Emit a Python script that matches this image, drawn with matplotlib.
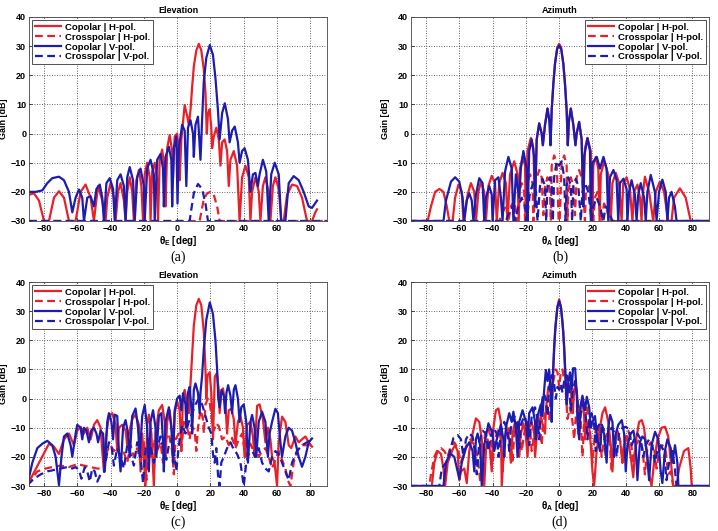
import numpy as np
import matplotlib
matplotlib.use("Agg")
import matplotlib.pyplot as plt

plt.rcParams['font.family'] = ['Liberation Sans', 'DejaVu Sans']

# ---- datos: (angulo [deg], ganancia [dB]) ----
# (a) Elevacion
a_co_h = [(-89, -21), (-86, -20.5), (-83, -23), (-80, -30), (-77, -30), (-74, -22), (-71, -19.8), (-68, -22),
          (-65, -30), (-61, -30), (-58, -20), (-55, -17.5), (-52, -22), (-50, -30), (-49, -25), (-47.5, -18),
          (-45, -23), (-43, -30), (-42, -22), (-40, -17), (-38, -22), (-37, -30), (-35.5, -20), (-34, -17),
          (-32, -23), (-31, -30), (-30, -20), (-28.5, -15), (-27, -20), (-26, -30), (-24.5, -16), (-23, -12.5),
          (-21.5, -18), (-20.5, -30), (-19.5, -14), (-18, -10), (-16.5, -15), (-16, -30), (-15, -13), (-13.5, -10),
          (-12, -16), (-11.5, -30), (-10.5, -9), (-9, -5.5), (-7.5, -12), (-7, -25), (-6, -5), (-4.5, -0.5),
          (-3, -6), (-2.5, -15), (-1.5, -1), (0, 0), (1, -6), (1.5, -16), (2.5, -2), (4.5, 9.8), (6, 6),
          (7, 3), (8, 8), (9, 16), (10, 23), (11.5, 28.5), (13, 30.8), (14.5, 28.5), (16, 22), (17, 14),
          (17.8, 0), (18.5, 7), (19.5, 8.3), (20.5, 2), (21, -5), (22, -1), (23.5, 2), (25, -2), (26, -11),
          (27, -3), (28.5, -2), (30, -6), (31, -18), (32, -9), (34, -6), (36, -11), (37.5, -30), (39, -15),
          (41, -11), (43, -15), (44, -30), (45, -20), (47, -15), (49, -20), (50, -30), (51.5, -18), (53, -15),
          (55, -20), (56, -30), (57.5, -18), (59, -15), (61, -19), (62.5, -30), (64, -30), (66, -21),
          (69, -17.5), (72, -18), (75, -22), (78, -30), (81, -30), (83, -27), (84, -26)]
a_x_h = [(-89, -30), (13.5, -30), (14.5, -27), (16, -22.5), (18, -20.5), (20, -20), (22, -21), (24, -25),
         (25.5, -30), (90, -30)]
a_co_v = [(-89, -20), (-85, -20), (-81, -19.5), (-78, -17), (-75, -15.3), (-71, -14.8), (-68, -16), (-65, -20),
          (-63, -27), (-61, -22), (-59, -19.2), (-57, -22), (-56, -30), (-54, -22), (-52, -21.5), (-50, -25),
          (-48.5, -19), (-46.5, -17.5), (-45, -22), (-44, -30), (-42.5, -17), (-40.5, -15.3), (-38.5, -19),
          (-37.5, -30), (-36, -16), (-34, -14), (-32, -18), (-31, -30), (-30, -15), (-28.5, -11.5), (-26.5, -16),
          (-25.5, -30), (-24, -15), (-22, -12), (-20, -18), (-19.5, -30), (-18, -12), (-16, -9), (-14, -14),
          (-13.5, -30), (-12, -9), (-10, -7), (-8.5, -12), (-8, -25), (-7, -8), (-5, -4.5), (-3.5, -9),
          (-3, -25), (-2, -5), (-0.5, -1), (0.2, -24), (1, -5), (3, 3), (4.5, 1), (5.5, -18), (6.5, 2),
          (8, 4.6), (9.5, 0), (10, -8), (11, 3), (12.5, 5.8), (14, -9), (15, 5), (16, 18), (17.5, 26),
          (19.6, 30.4), (21.5, 27), (23, 19), (24.5, 8), (25.5, -2), (27, 7), (28.6, 10.4), (30.5, 5),
          (31.5, -3), (33, 1), (34.6, 2.4), (36.5, -3), (37.5, -10), (39, -6), (40.5, -5), (42.5, -9),
          (44, -20), (45.5, -14), (47, -13.5), (48.5, -18), (49.5, -14), (51.5, -9), (53.5, -13), (55, -30),
          (56.5, -14), (58.6, -10), (61, -14), (62.5, -30), (65, -30), (67, -17), (70, -14.6), (73, -16),
          (76, -20), (79, -25), (81, -25.5), (84, -23)]
a_x_v = [(-89, -30), (7.5, -30), (8.5, -26), (10, -20.5), (12.5, -17.3), (15, -19), (17, -24), (18.5, -30),
         (90, -30)]

# (b) Azimut
b_co_h = [(-90, -30), (-79, -30), (-77, -25), (-74.5, -20), (-72, -19), (-69.5, -20), (-67.5, -25), (-66, -30),
          (-64, -30), (-62.5, -22), (-60.5, -17.5), (-58.5, -20), (-57.5, -30), (-55, -21), (-53, -17),
          (-51, -20), (-50, -30), (-48.5, -20), (-47, -16.5), (-45, -20), (-44, -30), (-42.5, -18),
          (-40.5, -14.5), (-38.5, -17), (-37.5, -30), (-36, -17), (-34, -13.5), (-32, -17), (-31, -30),
          (-29.5, -14), (-27, -9.5), (-25, -14), (-24.3, -30), (-23.5, -12), (-22, -8), (-20.5, -11),
          (-20, -30), (-19, -6), (-17, -1.5), (-15.5, -5), (-14.5, -25), (-13.5, -2), (-12, 3.5), (-10.5, 0),
          (-9.8, -4), (-8.5, 3), (-7, 8.6), (-5.8, 4), (-5.2, -4), (-4.5, 8), (-3.5, 17), (-2.5, 24),
          (-1.2, 29.5), (0, 30.8), (1.2, 29.5), (2.5, 24), (3.5, 17), (4.5, 8), (5.2, -4), (5.8, 4), (7, 8.6),
          (8.5, 3), (9.8, -4), (10.5, 0), (12, 4), (13.5, -2), (14.5, -25), (15.5, -5), (17, -1.5), (19, -6),
          (20, -30), (20.5, -11), (22, -8), (23.5, -12), (24.3, -30), (25, -14), (27, -9.5), (29.5, -14),
          (31, -30), (32, -17), (34, -13.5), (36, -17), (37.5, -30), (38.5, -17), (40.5, -15), (42.5, -19),
          (44, -30), (45, -20), (47, -17.5), (48.5, -22), (49.5, -30), (50, -22), (51.5, -14.8), (54, -20),
          (56.5, -30), (58, -20), (60.5, -16.5), (63, -20), (65.5, -30), (67.5, -30), (69, -22), (72.5, -18.8),
          (76, -22), (79, -30), (90, -30)]
b_x_h = [(-90, -30), (-36, -30), (-34, -27), (-32, -25), (-30.5, -30), (-29, -25), (-27, -23), (-25.5, -30),
         (-24, -20), (-22.5, -17), (-21, -20), (-20.5, -30), (-19, -17), (-17.5, -14), (-16, -17), (-15.5, -30),
         (-14, -16), (-12, -12.5), (-10.5, -15), (-9.5, -28), (-8.5, -18), (-7, -15), (-5.5, -20), (-5, -30),
         (-4.5, -11), (-3, -7.5), (-1.5, -10), (-0.3, -30), (0.3, -30), (1.5, -10), (3, -7.5), (4.5, -11),
         (5, -30), (5.5, -20), (7, -15), (8.5, -18), (9.5, -28), (10.5, -15), (12, -12.5), (14, -16),
         (15.5, -30), (16, -20), (18, -18), (19.5, -22), (20.5, -30), (21.5, -22), (23, -20), (24.5, -24),
         (25.5, -30), (27, -24), (29, -27), (30.5, -30), (90, -30)]
b_co_v = [(-90, -30), (-69.5, -30), (-68, -23), (-65, -16.5), (-62.5, -15), (-60, -16.5), (-58, -22), (-57, -30),
          (-55.5, -23), (-54, -20.5), (-52.5, -23), (-51.5, -30), (-50, -21), (-48, -15.3), (-46, -17),
          (-45, -30), (-44, -22), (-42, -18), (-40.5, -21), (-40, -30), (-38.5, -16), (-36.5, -15), (-35, -22),
          (-34, -30), (-32.5, -13), (-30.5, -8), (-28.5, -12), (-27.5, -30), (-26, -14), (-24, -22), (-23, -12),
          (-21.5, -6), (-19.5, -12), (-19, -30), (-18, -6), (-16.5, -2), (-15, -8), (-14.5, -25), (-13.5, -2),
          (-12, 3.5), (-10.5, 0), (-9.8, -4), (-8.5, 3), (-7, 8.6), (-5.8, 4), (-5.2, -4), (-4.5, 8),
          (-3.5, 17), (-2.5, 24), (-1.2, 29), (0, 30.2), (1.2, 29), (2.5, 24), (3.5, 17), (4.5, 8), (5.2, -4),
          (5.8, 4), (7, 8.6), (8.5, 3), (9.8, -4), (10.5, 0), (12, 4), (13.5, -2), (14.5, -25), (15, -8),
          (17, -1.6), (18.5, -6), (19, -30), (20, -10), (22.6, -8), (24.5, -12), (26.6, -8), (28.5, -12),
          (29.5, -30), (30.5, -15), (32.6, -12.5), (34.5, -16), (35.5, -30), (36.5, -17), (38.6, -15.5),
          (40.5, -19), (41, -30), (42, -20), (43.5, -16), (45.5, -21), (46.5, -30), (47.5, -21), (49, -17),
          (51, -22), (52, -30), (53, -20), (55, -14.2), (57.5, -20), (58.5, -30), (60, -20), (62, -15.8),
          (64, -20), (65, -30), (66, -22), (67.5, -20), (69.5, -25), (70.5, -30), (90, -30)]
b_x_v = [(-90, -30), (-32, -30), (-30, -27), (-28, -25), (-26.5, -30), (-24.5, -25), (-22.5, -22), (-20.5, -25),
         (-19.5, -30), (-17.5, -20), (-15.5, -17), (-14, -20), (-13, -30), (-11.5, -18), (-10, -15.5),
         (-8.5, -18), (-7.8, -30), (-7, -18), (-5.5, -15), (-4.5, -18), (-3.8, -30), (-3, -15), (-1.5, -9.5),
         (0, -11), (1.5, -9.5), (3, -15), (3.8, -30), (4.5, -18), (5.5, -15), (7, -18), (7.8, -30), (8.5, -18),
         (10, -15.5), (11.5, -18), (13, -30), (14, -20), (15.5, -17), (17.5, -20), (19.5, -30), (20.5, -25),
         (22.5, -22), (24.5, -25), (26.5, -30), (28, -25), (30, -27), (32, -30), (90, -30)]

# (c) Elevacion
c_co_h = [(-90, -29.7), (-77, -15.5), (-74, -16.5), (-71, -19), (-68, -14), (-65, -12), (-62, -16), (-60, -11),
          (-58, -9.7), (-56, -12), (-54, -10), (-52, -14), (-50, -9), (-48, -7.4), (-46, -10), (-45, -18),
          (-44, -25), (-43, -14), (-41, -6), (-39, -5), (-37, -9), (-36, -18), (-35, -10), (-33, -9), (-31, -11),
          (-30, -16), (-29, -12), (-27, -7), (-25, -5.5), (-23, -9), (-22, -25), (-21, -12), (-19, -30),
          (-18, -9), (-17, -5.5), (-15.5, -12), (-14, -30), (-13, -12), (-11, -4), (-9, -2.2), (-7.5, -8),
          (-7, -20), (-6, -8), (-4.5, -4), (-3, -12), (-2.5, -20), (-1.5, -5), (0, -1), (1.5, -4), (2.5, -18),
          (3.5, 1), (4.5, 3), (6, -2), (7, -5), (8, 5), (9, 15), (10, 25), (11.5, 32), (13, 34.2), (14.5, 32),
          (16, 23), (17, 10), (17.5, 0), (18.2, 8), (19.5, 9), (20.5, 2), (21.5, -14), (22.6, 7.5),
          (23.8, 8.7), (25, 3), (25.5, -5), (26.5, 2), (27.5, 3.5), (29, -2), (30, -12), (31, -4),
          (32.5, -3.5), (34, -7), (35, -16), (36.5, -8), (38, -6), (39.5, -10), (40.5, -20), (42, -9), (44, -8),
          (45.5, -13), (46.5, -20), (48, -2.5), (49.5, -2), (51.5, -7), (53, -15), (54.5, -10), (56, -14),
          (57, -20), (58.5, -22), (60, -30), (61, -15), (63, -6.2), (65, -8), (67, -16), (68.5, -17), (71, -13),
          (73, -15), (75, -14), (77, -13), (79, -15), (81, -16.5)]
c_x_h = [(-90, -29.7), (-84, -25), (-79, -24), (-75, -23.5), (-70, -23), (-65, -23.5), (-60, -22.5), (-56, -23),
         (-52, -23.5), (-48, -24), (-45, -24), (-43.5, -23), (-42, -18), (-40, -16), (-38, -18), (-36, -17),
         (-34, -20), (-32, -18.5), (-30, -22), (-28, -16), (-26, -20), (-24, -17), (-22, -22), (-20, -15),
         (-18.5, -28), (-17, -15), (-15.5, -20), (-14, -14), (-12, -18), (-10, -15), (-8.5, -22), (-7, -14),
         (-5, -12), (-3, -18), (-2, -26), (-1, -14), (1, -12), (2.5, -18), (4, -8), (6, -10), (7.5, -14),
         (8.5, -9), (10.5, -11), (11.5, -18), (12.5, -10), (14, -4), (15.5, -7), (16, -12), (17, -2),
         (18.5, 0), (19.5, -1), (20.5, -6), (22, -11), (23.5, -8.5), (25, -9.5), (27, -14), (29, -13),
         (31, -16), (33, -13.5), (35, -17), (37, -14), (39, -12), (41, -20), (43, -14), (45, -17), (47, -15),
         (49, -20), (51, -18), (53, -17), (55, -20), (57, -24), (59, -21), (61, -18), (63, -21), (65, -24),
         (66.5, -28), (68, -30), (70, -22), (72, -18), (75, -16), (78, -16), (81, -16)]
c_co_v = [(-90, -29.7), (-87, -22), (-84, -17), (-81, -15.5), (-78, -14.5), (-75, -16), (-73, -20), (-71, -29.7),
          (-69.5, -20), (-68, -13), (-66, -12), (-64, -16), (-63, -20), (-61, -12), (-60, -9), (-58, -10),
          (-57, -14), (-56, -10), (-54.5, -11), (-53, -15), (-51.5, -10.8), (-50, -10), (-48.5, -12),
          (-47.5, -15), (-46, -11), (-44.5, -12), (-43.5, -25), (-42, -8), (-41, -5), (-39.5, -8), (-38.5, -14),
          (-37.5, -5.5), (-36, -6), (-35, -18), (-34, -25), (-32.5, -10), (-31, -7.4), (-29.5, -12),
          (-28.5, -20), (-27, -6), (-25, -3.4), (-23.5, -10), (-22.5, -20), (-21, -6), (-19.5, -2.2), (-18, -10),
          (-17, -25), (-16, -8), (-14.5, -4), (-13, -10), (-12.5, -20), (-11, -6), (-9.5, -5), (-8.5, -15),
          (-8, -25), (-7, -8), (-5, -3), (-3.5, -10), (-2.5, -22), (-1.5, -4), (0, 0), (1.5, 1), (2.5, -4),
          (3.5, 1.8), (5, -2), (5.5, -10), (6.5, 2), (7.5, 4), (8.5, -3), (9, -12), (10, 3), (11, 5.2),
          (12.5, 2), (13.5, -5), (14, 2), (15, 8), (16, 17), (17.5, 27), (19.6, 33), (21.5, 29), (23, 20),
          (24, 10), (24.7, 0), (25.5, -3), (26.6, 3), (28, 1), (28.8, -5), (29.6, 2), (30.6, 4.6), (32, 1),
          (33, -5), (34, 3), (35, 4.6), (36.5, 0), (37.5, -8), (38.5, -3), (40, -2), (41.5, -8), (42.5, -22),
          (44, -8), (45, -5.6), (46.5, -10), (47.5, -20), (49, -8), (51, -4.5), (53, -8), (54.5, -20),
          (55.5, -12), (57, -8), (59, -3.5), (60.5, -5), (62, -15), (63, -20), (65, -13), (67, -10), (69, -11),
          (71, -15), (73, -20), (75, -23.4), (77, -20), (79, -15), (81, -13.7)]
c_x_v = [(-90, -29.7), (-86, -27.5), (-82, -26), (-78, -25), (-74, -24.5), (-70, -24), (-66, -23.5), (-63, -24),
         (-61, -23.5), (-59, -24.5), (-57.5, -27.5), (-55.5, -23.5), (-54, -25), (-52.5, -28.5), (-51, -24),
         (-49.5, -25), (-48, -28.5), (-46, -26), (-44, -25.5), (-42.5, -20), (-41, -15), (-39.5, -16),
         (-38, -23), (-36, -17), (-34, -20), (-32, -24), (-30, -16), (-28, -19), (-26, -23), (-24, -15),
         (-22, -20), (-20.5, -29), (-19, -17), (-17, -14), (-15.5, -18), (-14, -22), (-12, -17), (-10, -13),
         (-8, -18), (-6.5, -21), (-5, -16), (-3, -14), (-1.5, -20), (-0.5, -25), (1, -16), (3, -9), (5, -12),
         (7, -8), (9, -5), (11, -2), (13, 0), (15, -2), (17, -6), (19, -10), (20.5, -12), (21.5, -19),
         (22.5, -22), (23.5, -17), (24.5, -26), (25.5, -30), (26.5, -22), (28, -20), (30, -17), (32, -15),
         (34, -17.5), (36, -19), (38, -22), (40, -30), (41.5, -22), (43, -19), (45, -18), (47, -20), (49, -17),
         (51, -22), (53, -24), (55, -25), (57, -20), (59, -18), (61, -19), (63, -22), (65, -25), (67, -28),
         (69, -22), (72, -18), (75, -16), (78, -15), (81, -14)]

# (d) Azimut
d_co_h = [(-90, -30), (-76.5, -30), (-75, -22), (-73, -18), (-71, -19), (-69.5, -24), (-68.5, -30), (-67, -22),
          (-64, -17.5), (-62.5, -16), (-61, -18), (-60, -28), (-59, -25), (-57, -24), (-55.5, -29), (-54, -18),
          (-52, -12), (-50, -6.8), (-48, -8), (-46.5, -14), (-45, -30), (-44, -18), (-43, -14), (-41.5, -18),
          (-40.5, -25), (-39.5, -10), (-38, -4), (-36.5, -3.4), (-35, -8), (-34.5, -30), (-33, -15),
          (-31.5, -10), (-30, -14), (-29, -22), (-28, -12), (-26.5, -8), (-25, -11), (-24, -20), (-23, -12),
          (-21.5, -8.5), (-20, -13), (-19, -20), (-18, -10), (-16.5, -8), (-15, -12), (-14.5, -20), (-13, -10),
          (-11, -6), (-9.5, -10), (-8.5, -12), (-8, -4), (-6.5, 4), (-5, 2), (-4.5, -2), (-3.5, 10), (-2.5, 23),
          (-1.2, 31), (0, 34), (1.2, 31), (2.5, 23), (3.5, 10), (4.5, -2), (5.2, 3), (6.5, 5), (7.5, 0),
          (8.2, -5), (9, 3), (10, 5), (11, 0), (11.5, -12), (12.5, -3), (14, -1), (15, -6), (15.5, -14),
          (16.5, -8), (18, -10), (19, -16), (20, -25), (21, -30), (22.5, -18), (24.5, -10), (26, -5),
          (27.6, -3), (29.5, -8), (31, -16), (32, -25), (33, -14), (35, -11), (36.5, -14), (38, -22), (39, -16),
          (41, -13), (43, -20), (44.5, -27), (46, -15), (48, -8), (49.6, -7.4), (51, -10), (52.5, -18),
          (54, -26), (55.5, -30), (57, -22), (59, -14), (61.5, -10), (63.6, -9.7), (65.5, -13), (67, -21),
          (68.5, -30), (70.5, -30), (72, -24), (75, -18), (77.6, -17), (79, -24), (79.6, -30), (90, -30)]
d_x_h = [(-90, -30), (-78, -30), (-77, -26), (-75, -20), (-73, -17.5), (-71, -17), (-69, -18), (-67, -20),
         (-65.5, -17), (-63, -15), (-61, -17), (-59, -22), (-57, -18), (-55, -15), (-53, -14), (-51, -16),
         (-49, -20), (-47.5, -28), (-46.5, -22), (-44.5, -12), (-42.5, -10), (-41, -14), (-40, -22),
         (-38.5, -14), (-36.5, -10.5), (-35, -14), (-34, -25), (-32.5, -13), (-30.5, -9.5), (-29, -13),
         (-28, -22), (-27, -12), (-25, -8), (-23.5, -11), (-22.5, -18), (-21, -12), (-19, -8), (-17.5, -10),
         (-16.5, -18), (-15, -12), (-13, -6), (-11.5, -9), (-10.5, -16), (-9.5, -8), (-7.5, -3), (-6, -7),
         (-5, 2), (-3.5, 6), (-2, 10), (-1, 9), (0, 4), (1, 9), (2, 10), (3, 6), (4, 2), (5, -7), (6.5, -3),
         (8, -8), (9, -14), (10, -6), (11.5, -2), (13, -8), (14, -20), (15, -8), (16.5, -3), (18, -8),
         (19, -14), (20, -22), (21.5, -12), (23, -8.5), (24.5, -12), (25.5, -20), (27, -14), (29, -12),
         (30.5, -16), (31.5, -25), (33, -15), (35, -12), (37, -15), (38, -22), (39.5, -14), (41.5, -11),
         (43, -14), (44.5, -22), (46, -16), (48, -14), (50, -17), (51.5, -26), (53, -17), (55, -15), (57, -17),
         (58.5, -24), (60, -18), (62, -16), (64, -18), (65.5, -26), (67, -25), (68.5, -30), (90, -30)]
d_co_v = [(-90, -30), (-69.5, -30), (-68, -22), (-65.5, -18.8), (-63, -20), (-61, -25), (-60, -27.5),
          (-58.5, -22), (-56, -17), (-54, -15), (-52, -18), (-51, -25), (-50, -14), (-49, -12), (-47.5, -16),
          (-46.5, -30), (-45, -16), (-42.5, -8.5), (-40, -12), (-39, -18), (-37.5, -14), (-35, -9),
          (-33.5, -14), (-33, -20), (-32, -10), (-30, -5), (-28.5, -8), (-27.5, -4.5), (-26, -10), (-25, -20),
          (-24, -8), (-22, -4), (-20, -8), (-19, -14), (-18, -5), (-16, -3), (-14.5, -8), (-14, -14), (-13, -6),
          (-11, -2), (-10, -6), (-9, 3), (-8, 9.8), (-7, 6), (-6, 10), (-5, 2), (-4.5, -8), (-3.8, 8), (-3, 18),
          (-2, 26), (-1, 31.5), (0, 33.5), (1, 31.5), (2, 26), (3, 18), (3.8, 8), (4.5, -2), (5.5, 6), (6.5, 9),
          (7.5, 3), (8.3, 10.4), (9.6, 10.4), (10.5, 2), (11, -8), (12, -14), (13, -2), (14, 1), (15.5, -4),
          (16.6, 0.6), (18, -3), (19, -10), (20, -8), (21.5, -6), (23, -14), (24.5, -18), (25.5, -10), (27, -12),
          (28.5, -22), (29.5, -10), (30.6, -5.6), (32, -8), (33, -20), (34, -12), (35.5, -9), (37.6, -7.4),
          (39, -12), (40, -25), (41, -16), (43, -12), (44.6, -11), (46, -16), (47, -28), (48.5, -15), (50, -13),
          (51.6, -14), (53, -20), (54, -28), (55.5, -16), (57.6, -11.4), (59.5, -14), (61, -25), (62, -29),
          (63.5, -18), (65, -14), (67, -17), (68, -22), (69.6, -16), (71, -22), (71.6, -30), (90, -30)]
d_x_v = [(-90, -30), (-72, -30), (-70.5, -24), (-68, -22), (-66, -19), (-63.5, -13.5), (-61, -12.5), (-59, -14),
         (-57.5, -20), (-56, -14), (-54, -12), (-52, -13), (-50.5, -19), (-49.5, -26), (-48, -15), (-46, -11),
         (-44, -12), (-42.5, -18), (-41.5, -14), (-39.5, -10), (-37.5, -12), (-36.5, -20), (-35, -12),
         (-33, -8), (-31, -11), (-30, -18), (-29, -10), (-27, -6), (-25, -9), (-24, -17), (-23, -9), (-21, -6),
         (-19, -9), (-18, -16), (-16.5, -6), (-14.5, -3), (-13, -7), (-12, -14), (-11, -4), (-9.5, 2), (-8, 0),
         (-7, -6), (-6, 4), (-4.5, 8), (-3, 5), (-2, 0), (-1, 4), (0, 3), (1, 5), (2, 2), (3, 6), (4.5, 8),
         (6, 4), (7, -4), (8, 2), (9.5, 6), (11, 0), (12, -12), (13, -5), (14.5, -2), (16, -6), (17, -14),
         (18, -8), (19.5, -5), (21, -9), (22, -18), (23, -10), (25, -8), (27, -11), (28, -20), (29.5, -12),
         (31.5, -10), (33.5, -12), (34.5, -20), (36, -12), (38, -10), (40, -9.7), (42, -10.5), (43.5, -16),
         (45, -14), (47, -12), (49, -14), (50.5, -20), (52, -16), (54, -14), (56, -16), (57.5, -22), (59, -18),
         (61, -16), (63, -18), (64.5, -28), (66, -22), (68, -18), (69.5, -24), (70.5, -30), (90, -30)]

titles = ['Elevation', 'Azimuth', 'Elevation', 'Azimuth']
xlabels = [r'$\mathregular{\theta_E}$ [deg]', r'$\mathregular{\theta_A}$ [deg]',
           r'$\mathregular{\theta_E}$ [deg]', r'$\mathregular{\theta_A}$ [deg]']
captions = ['(a)', '(b)', '(c)', '(d)']
leg_labels = ['Copolar | H-pol.', 'Crosspolar | H-pol.', 'Copolar | V-pol.', 'Crosspolar | V-pol.']
leg_loc = ['upper left', 'upper right', 'upper left', 'upper right']
series = [(a_co_h, a_x_h, a_co_v, a_x_v), (b_co_h, b_x_h, b_co_v, b_x_v),
          (c_co_h, c_x_h, c_co_v, c_x_v), (d_co_h, d_x_h, d_co_v, d_x_v)]

RED = '#e8202a'
BLUE = '#1c1cb0'

fig = plt.figure(figsize=(7.18, 5.31), dpi=100)
W, H = 718.0, 531.0
boxes = [(29, 17), (411, 17), (29, 282), (411, 282)]   # esquina sup. izq. de cada eje (px)
aw, ah = 298, 204

for k, (px, py) in enumerate(boxes):
    ax = fig.add_axes([px / W, 1 - (py + ah) / H, aw / W, ah / H])
    co_h, x_h, co_v, x_v = series[k]
    estilos = [(co_h, RED, '-'), (x_h, RED, '--'), (co_v, BLUE, '-'), (x_v, BLUE, '--')]
    for (pts, col, ls), lab in zip(estilos, leg_labels):
        arr = np.array(pts)
        ax.plot(arr[:, 0], arr[:, 1], color=col, linestyle=ls, linewidth=1.6, label=lab,
                dashes=(3.5, 2) if ls == '--' else (None, None))
    ax.set_xlim(-89, 90)
    ax.set_ylim(-30, 40)
    ax.set_xticks(np.arange(-80, 81, 20))
    ax.set_yticks(np.arange(-30, 41, 10))
    ax.grid(True, color='#333333', linestyle=(0, (1, 2)), linewidth=0.6)
    ax.tick_params(direction='in', length=2.5, width=0.5, labelsize=6.5, pad=2)
    for lbl in ax.get_xticklabels() + ax.get_yticklabels():
        lbl.set_fontweight('bold')
    for sp in ax.spines.values():
        sp.set_linewidth(0.6)
        sp.set_color('#444444')
    ax.set_title(titles[k], fontsize=6.5, fontweight='bold', pad=3)
    ax.set_xlabel(xlabels[k], fontsize=7, fontweight='bold', labelpad=1)
    ax.set_ylabel('Gain [dB]', fontsize=6.5, fontweight='bold', labelpad=2)
    leg = ax.legend(loc=leg_loc[k], prop={'weight': 'bold', 'size': 6.8},
                    handlelength=2.8, handletextpad=0.4, borderpad=0.3, labelspacing=0.1,
                    borderaxespad=0.3, fancybox=False, framealpha=1)
    leg.get_frame().set_edgecolor('#333333')
    leg.get_frame().set_linewidth(0.6)
    fig.text((px + aw / 2) / W, 1 - (py + 240) / H, captions[k], ha='center', va='center',
             fontsize=10, family='Liberation Serif')

fig.savefig('out.png', dpi=100)
